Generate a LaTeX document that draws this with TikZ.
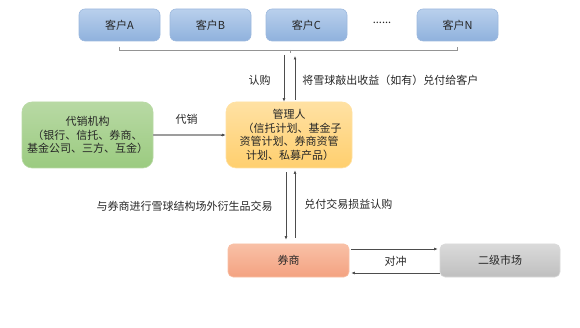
\documentclass[tikz,border=0pt]{standalone}
\usepackage{fontspec}
\setmainfont{Noto Sans CJK SC}
\usetikzlibrary{arrows.meta,positioning,calc}
\usepackage{xcolor}
\definecolor{custtop}{HTML}{B9D0EC}
\definecolor{custbot}{HTML}{8FB1DD}
\definecolor{custline}{HTML}{9DB9DE}
\definecolor{grntop}{HTML}{B8D9A4}
\definecolor{grnbot}{HTML}{9BCB80}
\definecolor{yeltop}{HTML}{FFE1A3}
\definecolor{yelbot}{HTML}{FFCF6E}
\definecolor{saltop}{HTML}{F8C0A6}
\definecolor{salbot}{HTML}{F4A281}
\definecolor{gratop}{HTML}{DADADA}
\definecolor{grabot}{HTML}{BFBFBF}
\definecolor{linkgray}{HTML}{4D4D4D}

\tikzset{
  box/.style={rounded corners=6pt,inner sep=0pt,align=center,
    font=\fontsize{11}{13.5}\selectfont,line width=.6pt,text=black!85},
  custbox/.style={box,minimum width=81pt,minimum height=32pt,
    top color=custtop,bottom color=custbot,draw=custline},
  link/.style={draw=linkgray,line width=.6pt,-{Latex[length=3.5pt,width=2.8pt]}},
  lbl/.style={font=\fontsize{11}{13}\selectfont,inner sep=1pt,text=black!85}
}

\begin{document}
\begin{tikzpicture}[x=1pt,y=-1pt]
  \useasboundingbox (0,0) rectangle (580,328);

  % clients
  \node[custbox] (ca) at (119.5,25) {客户A};
  \node[custbox] (cb) at (210.5,25) {客户B};
  \node[custbox] (cc) at (306.5,25) {客户C};
  \node[lbl] (dots) at (382,23) {......};
  \node[custbox] (cn) at (457.5,25) {客户N};

  \draw[linkgray!60,line width=.6pt] (ca.south |- 0,47) -- (ca.south |- 0,50)
    -- (cn.south |- 0,50) -- (cn.south |- 0,47);
  \draw[linkgray!60,line width=.6pt] (290,50) -- (290,53);
  \coordinate (brdown) at (284,55);
  \coordinate (brup) at (295,56);

  % middle row
  \node[box,rounded corners=10pt,minimum width=131pt,minimum height=66pt,
    top color=grntop,bottom color=grnbot,draw=grntop] (agent) at (87.5,135)
    {代销机构\\（银行、信托、券商、\\基金公司、三方、互金）};
  \node[box,rounded corners=10pt,minimum width=126pt,minimum height=66pt,
    top color=yeltop,bottom color=yelbot,draw=yeltop] (mgr) at (289,135)
    {管理人\\\hspace*{6pt}（信托计划、基金子\\资管计划、券商资管\\\hspace*{2pt}计划、私募产品）};

  % bottom row
  \node[box,rounded corners=5pt,minimum width=121pt,minimum height=33pt,
    top color=saltop,bottom color=salbot,draw=saltop] (broker) at (288.5,260.5) {券商};
  \node[box,rounded corners=5pt,minimum width=120pt,minimum height=33pt,
    top color=gratop,bottom color=grabot,draw=gratop] (mkt) at (500,260.5) {二级市场};

  % connectors
  \draw[link] (brdown) -- (brdown |- mgr.north) node[pos=.55,lbl,left=12pt] {认购};
  \draw[link] ($(brup |- mgr.north)+(0,-2)$) -- (brup)
    node[pos=.45,lbl,right=6pt] {将雪球敲出收益（如有）兑付给客户};
  \draw[draw=linkgray!55,line width=1.3pt] (agent) -- ($(mgr.west)+(-4,0)$);
  \draw[link] ($(mgr.west)+(-5,0)$) -- (mgr)
    node[pos=0,lbl,above=9pt,xshift=-34pt] {代销};

  \draw[link] ($(mgr.south)+(-3,4)$) -- ($(broker.north)+(-2.5,-4)$)
    node[midway,lbl,left=12pt] {与券商进行雪球结构场外衍生品交易};
  \draw[link] ($(broker.north)+(6.5,-6)$) -- ($(mgr.south)+(6,2)$)
    node[midway,lbl,right=8pt] {兑付交易损益认购};

  \draw[link] ($(broker.east)+(2,-11.5)$) -- ($(mkt.west)+(-2,-11.5)$);
  \draw[link] ($(mkt.west)+(0,12.5)$) -- ($(broker.east)+(2,12.5)$)
    node[midway,lbl,above=5pt] {对冲};
\end{tikzpicture}
\end{document}
